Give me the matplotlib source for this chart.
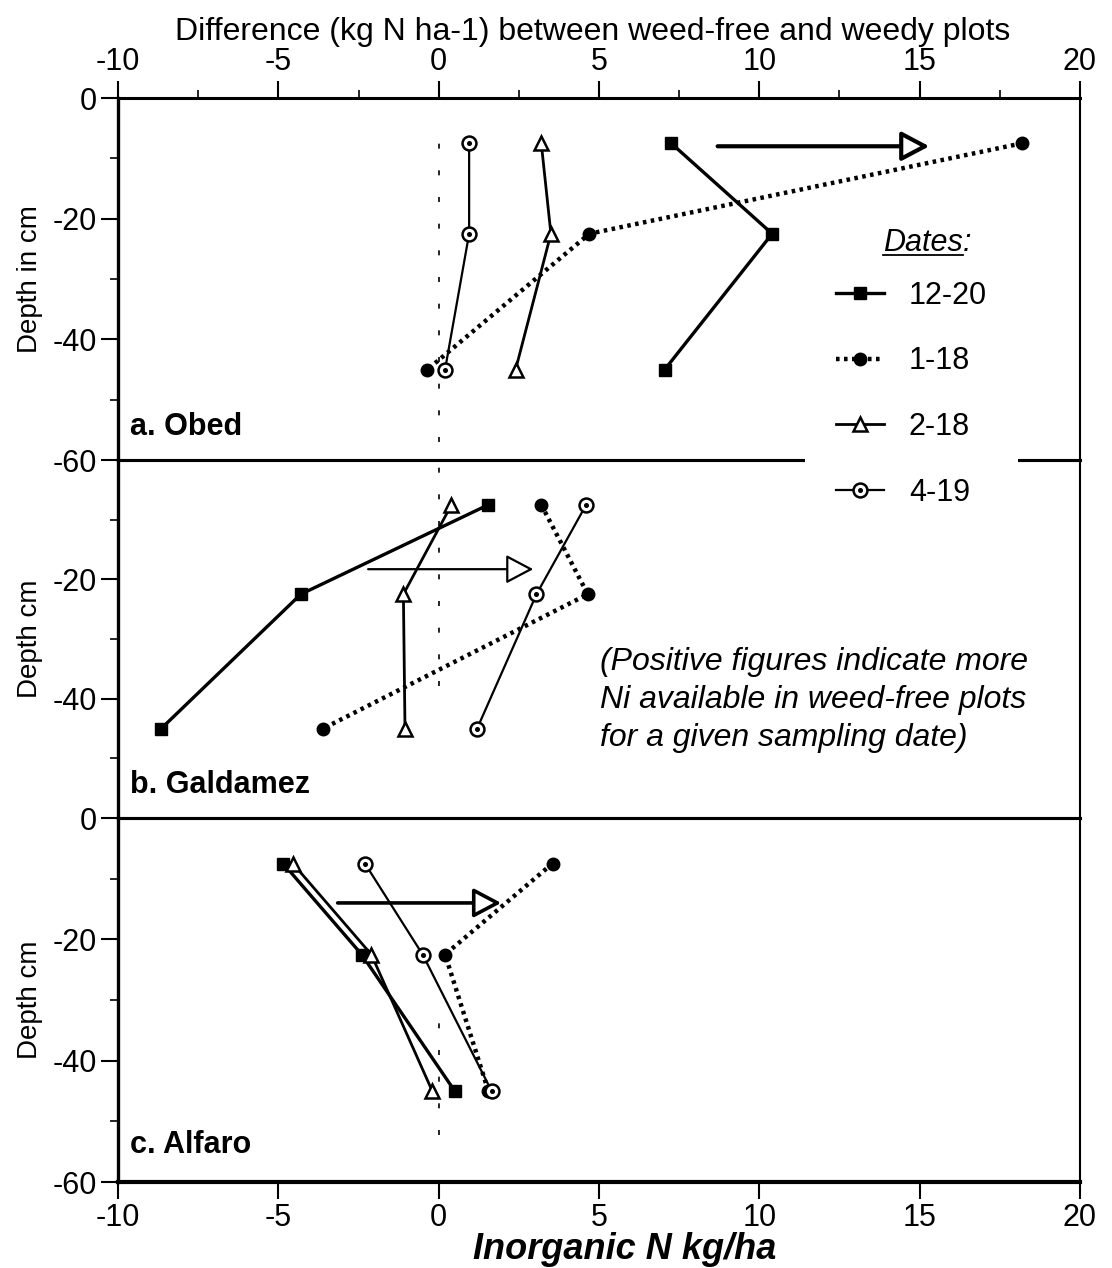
import matplotlib
matplotlib.use("Agg")
import matplotlib.pyplot as plt
from matplotlib.lines import Line2D
from matplotlib.legend_handler import HandlerTuple
from matplotlib.ticker import FixedLocator

plt.rcParams["font.family"] = ["Liberation Sans", "DejaVu Sans"]
plt.rcParams["axes.unicode_minus"] = False

# Sampling depths (cm) and sampling dates
depths = [-7.5, -22.5, -45]
dates = ["12-20", "1-18", "2-18", "4-19"]

# Difference in inorganic N (kg/ha), weed-free minus weedy, per site and date
obed_1220 = [7.25, 10.4, 7.05]
obed_0118 = [18.2, 4.7, -0.35]
obed_0218 = [3.2, 3.5, 2.4]
obed_0419 = [0.95, 0.95, 0.2]

galdamez_1220 = [1.55, -4.3, -8.65]
galdamez_0118 = [3.2, 4.65, -3.6]
galdamez_0218 = [0.4, -1.1, -1.05]
galdamez_0419 = [4.6, 3.05, 1.2]

alfaro_1220 = [-4.85, -2.4, 0.5]
alfaro_0118 = [3.55, 0.2, 1.55]
alfaro_0218 = [-4.55, -2.1, -0.2]
alfaro_0419 = [-2.3, -0.5, 1.65]

site_names = ["a. Obed", "b. Galdamez", "c. Alfaro"]
depth_titles = ["Depth in cm", "Depth cm", "Depth cm"]
x_ticks = [-10, -5, 0, 5, 10, 15, 20]

# Shift arrows: (start, end, depth)
shift_obed = (8.7, 15.3, -8.0)
shift_galdamez = (-2.2, 2.95, -18.3)
shift_alfaro = (-3.15, 1.95, -14.0)

site_series = [
    [obed_1220, obed_0118, obed_0218, obed_0419],
    [galdamez_1220, galdamez_0118, galdamez_0218, galdamez_0419],
    [alfaro_1220, alfaro_0118, alfaro_0218, alfaro_0419],
]
site_shifts = [shift_obed, shift_galdamez, shift_alfaro]

styles = [
    dict(ls="-", lw=2.4, marker="s", ms=9, mfc="black", mec="black", color="black"),
    dict(ls=(0, (0.8, 1.0)), lw=3.2, marker="o", ms=9, mfc="black", mec="black", color="black"),
    dict(ls="-", lw=2.0, marker="^", ms=10, mfc="white", mec="black", mew=1.8, color="black"),
    dict(ls="-", lw=1.6, marker="o", ms=10, mfc="white", mec="black", mew=1.8, color="black"),
]

W, H = 1112, 1268
fig = plt.figure(figsize=(W / 100, H / 100), dpi=100)
left, right = 118 / W, 1080 / W
panel_px = [(98, 460), (460, 818), (818, 1182)]
zero_spans = [(0.05, 0.88), (0.37, 1.0), (0.13, 0.45)]

axes = []
legend_handles = None
for i, (top, bot) in enumerate(panel_px):
    ax = fig.add_axes([left, 1 - bot / H, right - left, (bot - top) / H])
    ax.set_zorder(10 - i)
    ax.patch.set_facecolor("none")
    ax.set_xlim(-10, 20)
    ax.set_ylim(-60, 0)

    ax.axvline(0, ymin=zero_spans[i][0], ymax=zero_spans[i][1],
               color="black", lw=1.2, ls=(0, (3, 13)))

    handles = []
    for vals, st in zip(site_series[i], styles):
        (ln,) = ax.plot(vals, depths, clip_on=False, zorder=4, **st)
        handles.append(ln)
    (dots,) = ax.plot(site_series[i][3], depths, ls="none", marker="o", ms=2.6,
                      color="black", zorder=5)
    if legend_handles is None:
        legend_handles = handles[:3] + [(handles[3], dots)]

    s0, s1, sd = site_shifts[i]
    lw_arrow = [3.0, 1.6, 2.6][i]
    ax.annotate("", xy=(s1, sd), xytext=(s0, sd),
                arrowprops=dict(arrowstyle="-|>,head_length=0.85,head_width=0.45",
                                lw=lw_arrow, fc="white", ec="black",
                                mutation_scale=20, shrinkA=0, shrinkB=0),
                zorder=6)

    ax.text(0.0125, [0.091, 0.092, 0.102][i], site_names[i], transform=ax.transAxes,
            fontsize=22, fontweight="bold", va="center", ha="left")

    # spines
    ax.spines["left"].set_linewidth(2.4)
    ax.spines["right"].set_linewidth(1.5)
    ax.spines["top"].set_linewidth(2.2)
    ax.spines["bottom"].set_linewidth(2.2)

    # y axis
    if i == 1:
        ax.set_yticks([-20, -40])
    else:
        ax.set_yticks([0, -20, -40, -60])
    ax.yaxis.set_minor_locator(FixedLocator([-10, -30, -50]))
    ax.tick_params(axis="y", which="major", direction="out", length=12, width=1.5,
                   labelsize=22, pad=3)
    ax.tick_params(axis="y", which="minor", direction="out", length=6, width=1.2)
    ax.set_ylabel(depth_titles[i], fontsize=20)
    ax.yaxis.set_label_coords(-0.078, 0.5)

    ax.set_xticks(x_ticks)
    if i == 0:
        ax.xaxis.tick_top()
        ax.xaxis.set_minor_locator(FixedLocator([-7.5, -2.5, 2.5, 7.5, 12.5, 17.5]))
        ax.tick_params(axis="x", which="major", direction="out", length=12, width=1.5,
                       labelsize=22, pad=3)
        ax.tick_params(axis="x", which="minor", direction="out", length=6, width=1.2)
        ax.xaxis.set_label_position("top")
        ax.set_xlabel("Difference (kg N ha-1) between weed-free and weedy plots",
                      fontsize=23)
        ax.xaxis.set_label_coords(0.493, 1.16)
    elif i == 2:
        ax.tick_params(axis="x", which="major", direction="out", length=12, width=1.5,
                       labelsize=22, pad=3)
        ax.set_xlabel("Inorganic N kg/ha", fontsize=26, fontweight="bold",
                      fontstyle="italic")
        ax.xaxis.set_label_coords(0.527, -0.138)
        ax.spines["bottom"].set_linewidth(3.0)
    else:
        ax.tick_params(axis="x", which="both", bottom=False, labelbottom=False)
    axes.append(ax)

ax_a, ax_b, ax_c = axes

leg = ax_a.legend(legend_handles, dates, loc="upper left",
                  bbox_to_anchor=((805 - 118) / 962, 1 - (250 - 98) / 362),
                  borderaxespad=0, frameon=True, facecolor="white", edgecolor="none",
                  framealpha=1, fontsize=22, handlelength=1.6, handletextpad=0.8,
                  labelspacing=1.17, borderpad=1.0,
                  handler_map={tuple: HandlerTuple(ndivide=1)})
leg.set_zorder(20)

dates_txt = ax_a.text((883 - 118) / 962, 1 - (243 - 98) / 362, "Dates",
                      transform=ax_a.transAxes, fontsize=22, fontstyle="italic",
                      va="center", ha="left", zorder=21)

ax_b.text((600 - 118) / 962, 1 - (700 - 460) / 358,
          "(Positive figures indicate more\nNi available in weed-free plots\n"
          "for a given sampling date)",
          transform=ax_b.transAxes, fontsize=23, fontstyle="italic",
          va="center", ha="left", linespacing=1.36)

fig.canvas.draw()
bb = dates_txt.get_window_extent()
fig.text(bb.x1 / W, (bb.y0 + bb.y1) / 2 / H, ":", fontsize=22, fontstyle="italic",
         va="center", ha="left", zorder=30)
fig.add_artist(Line2D([bb.x0 / W, bb.x1 / W], [(bb.y0 + 3) / H, (bb.y0 + 3) / H],
                      transform=fig.transFigure, color="black", lw=1.3, zorder=30))

fig.savefig("out.png", dpi=100)
